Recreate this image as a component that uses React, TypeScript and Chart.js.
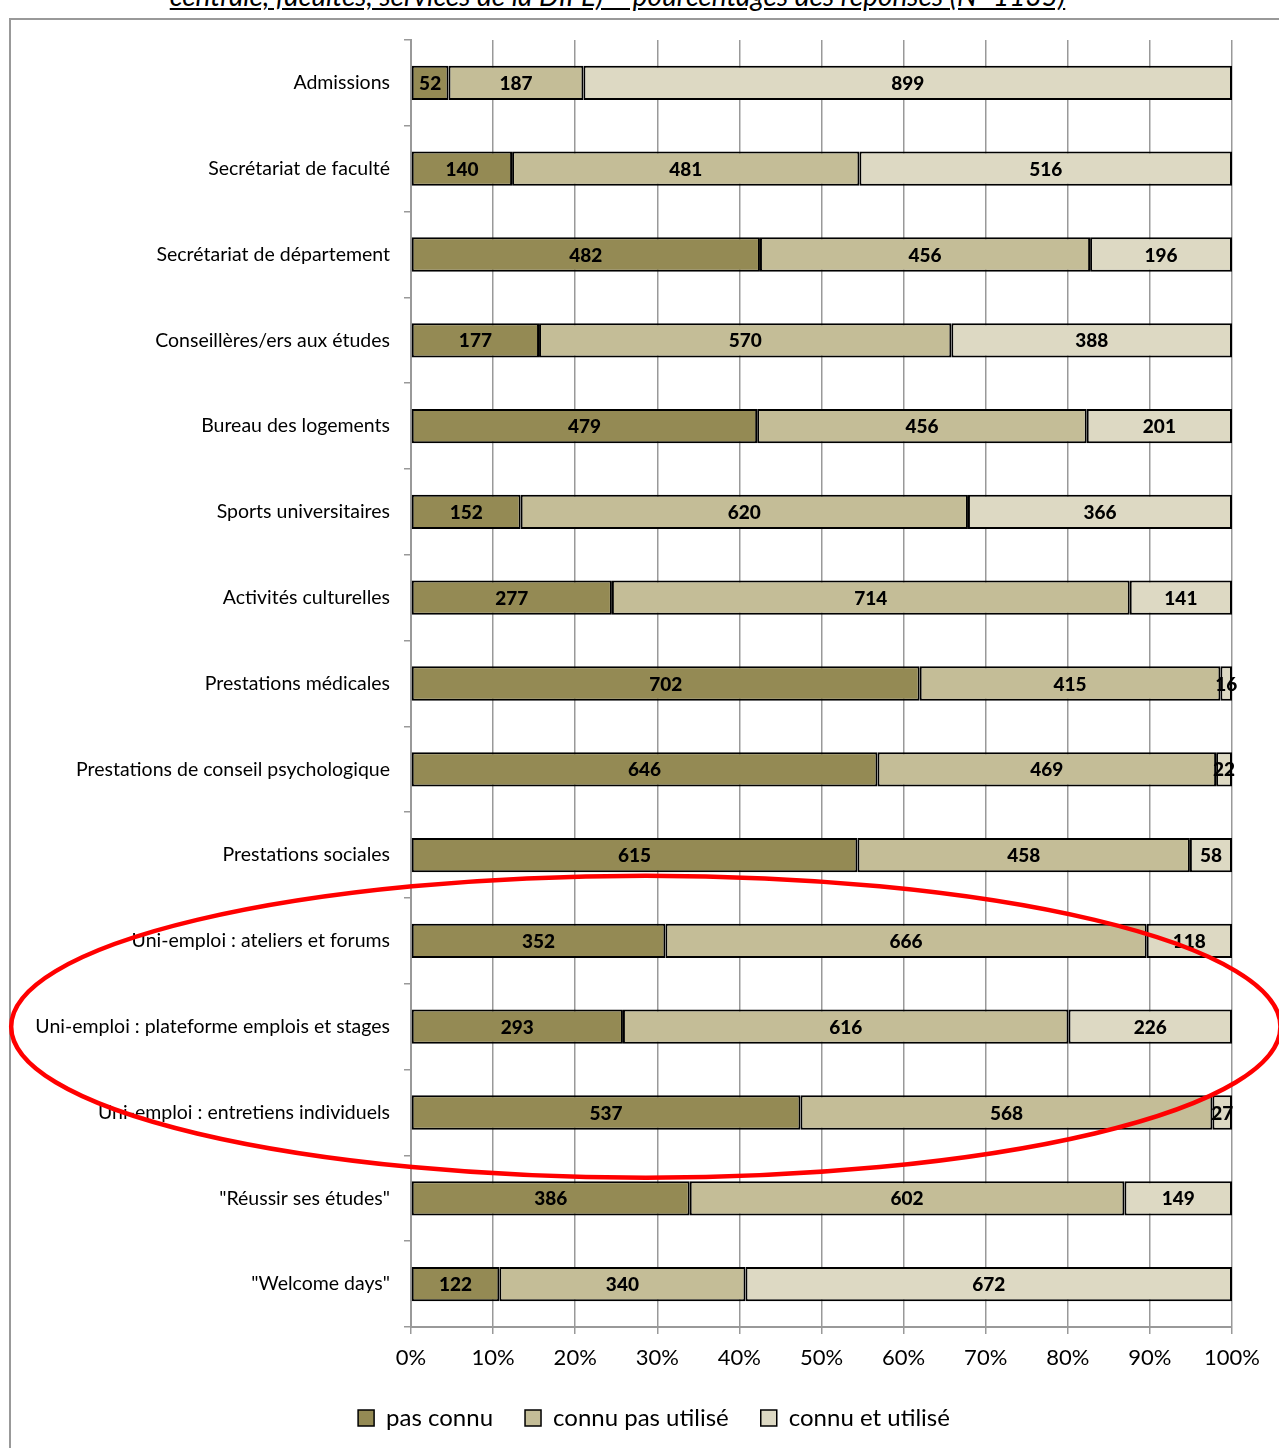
import React, { useEffect, useRef } from "react";
import { Chart, registerables } from "chart.js";

Chart.register(...registerables);

const categories = [
  "Admissions",
  "Secrétariat de faculté",
  "Secrétariat de département",
  "Conseillères/ers aux études",
  "Bureau des logements",
  "Sports universitaires",
  "Activités culturelles",
  "Prestations médicales",
  "Prestations de conseil psychologique",
  "Prestations sociales",
  "Uni-emploi : ateliers et forums",
  "Uni-emploi : plateforme emplois et stages",
  "Uni-emploi : entretiens individuels",
  "\"Réussir ses études\"",
  "\"Welcome days\"",
];

const pasConnu = [52, 140, 482, 177, 479, 152, 277, 702, 646, 615, 352, 293, 537, 386, 122];
const connuPasUtilise = [187, 481, 456, 570, 456, 620, 714, 415, 469, 458, 666, 616, 568, 602, 340];
const connuEtUtilise = [899, 516, 196, 388, 201, 366, 141, 16, 22, 58, 118, 226, 27, 149, 672];

const seriesNames = ["pas connu", "connu pas utilisé", "connu et utilisé"];
const seriesColors = ["#948A54", "#C4BD97", "#DDD9C3"];

const xTicks = [0, 10, 20, 30, 40, 50, 60, 70, 80, 90, 100];

const titleText = "centrale, facultés, services de la DIFE) – pourcentages des réponses (N=1135)";

const FONT = "Lato, 'Open Sans', sans-serif";

export default function App() {
  const ref = useRef<HTMLCanvasElement | null>(null);

  useEffect(() => {
    document.body.style.margin = "0";
    const canvas = ref.current;
    if (!canvas) return;
    const counts = [pasConnu, connuPasUtilise, connuEtUtilise];
    const totals = categories.map((_, i) => pasConnu[i] + connuPasUtilise[i] + connuEtUtilise[i]);
    const pct = counts.map((arr) => arr.map((v, i) => (v / totals[i]) * 100));

    const labelPlugin = {
      id: "segLabels",
      afterDatasetsDraw(chart: any) {
        const ctx = chart.ctx;
        ctx.save();
        ctx.font = `900 19px ${FONT}`;
        ctx.fillStyle = "#000";
        ctx.textAlign = "center";
        ctx.textBaseline = "middle";
        chart.data.datasets.forEach((ds: any, di: number) => {
          const meta = chart.getDatasetMeta(di);
          meta.data.forEach((el: any, i: number) => {
            const cx = (el.x + el.base) / 2;
            ctx.fillText(String(counts[di][i]), cx, el.y + 1);
          });
        });
        ctx.restore();
      },
    };

    const legendShift = {
      id: "legendShift",
      afterLayout(chart: any) {
        if (chart.legend) chart.legend.left = 76;
      },
    };

    const ellipsePlugin = {
      id: "redEllipse",
      afterDraw(chart: any) {
        const xs = chart.scales.x;
        const ys = chart.scales.y;
        const band = ys.getPixelForValue(1) - ys.getPixelForValue(0);
        const cx = xs.getPixelForValue(28.6);
        const rx = (xs.right - xs.left) * 0.773;
        const cy = ys.getPixelForValue(11);
        const ry = band * 1.76;
        const ctx = chart.ctx;
        ctx.save();
        ctx.strokeStyle = "#FF0000";
        ctx.lineWidth = 4.5;
        ctx.beginPath();
        ctx.ellipse(cx, cy, rx, ry, 0, 0, Math.PI * 2);
        ctx.stroke();
        ctx.restore();
      },
    };

    const chart = new Chart(canvas, {
      type: "bar",
      data: {
        labels: categories,
        datasets: pct.map((d, i) => ({
          label: seriesNames[i],
          data: d,
          backgroundColor: seriesColors[i],
          borderColor: "#000",
          borderWidth: 2,
          borderSkipped: false,
          barPercentage: 0.4,
          categoryPercentage: 1,
        })),
      },
      options: {
        indexAxis: "y",
        animation: false,
        responsive: false,
        maintainAspectRatio: false,
        layout: { padding: { top: 40, right: 47, bottom: 8, left: 0 } },
        scales: {
          x: {
            stacked: true,
            min: 0,
            max: 100,
            afterBuildTicks(scale: any) {
              scale.ticks = xTicks.map((v) => ({ value: v }));
            },
            afterFit(scale: any) {
              scale.height = 47;
            },
            ticks: {
              callback: (v: any) => `${v}%`,
              font: { family: FONT, size: 22 },
              color: "#000",
              padding: 11,
              maxRotation: 0,
            },
            grid: { color: "#999", lineWidth: 1.5, tickLength: 7 },
            border: { color: "#999", width: 2 },
          },
          y: {
            stacked: true,
            afterFit(scale: any) {
              scale.width = 411;
            },
            ticks: {
              font: { family: FONT, size: 19.5 },
              color: "#000",
              padding: 14,
            },
            grid: {
              drawOnChartArea: false,
              drawTicks: true,
              tickLength: 7,
              color: "#999",
              lineWidth: 1.5,
              offset: true,
            },
            border: { color: "#999", width: 2 },
          },
        },
        plugins: {
          legend: {
            position: "bottom",
            labels: {
              font: { family: FONT, size: 24 },
              color: "#000",
              boxWidth: 16,
              boxHeight: 16,
              padding: 32,
              generateLabels: (chart: any) =>
                chart.data.datasets.map((ds: any, i: number) => ({
                  text: ds.label,
                  fillStyle: seriesColors[i],
                  strokeStyle: "#000",
                  lineWidth: 1.5,
                  datasetIndex: i,
                  fontColor: "#000",
                })),
            },
          },
          tooltip: { enabled: false },
        },
      },
      plugins: [labelPlugin, legendShift, ellipsePlugin],
    } as any);

    return () => chart.destroy();
  }, []);

  return (
    <div style={{ position: "relative", width: 1279, height: 1448, overflow: "hidden", background: "#fff" }}>
      <div
        style={{
          position: "absolute",
          top: -22,
          left: 0,
          width: 1235,
          textAlign: "center",
          fontFamily: FONT,
          fontStyle: "italic",
          fontSize: 28,
          textDecoration: "underline",
          whiteSpace: "nowrap",
        }}
      >
        {titleText}
      </div>
      <div
        style={{
          position: "absolute",
          left: 9,
          top: 18,
          width: 1400,
          height: 1600,
          border: "2px solid #999",
          boxSizing: "border-box",
        }}
      />
      <canvas ref={ref} width={1279} height={1448} style={{ position: "absolute", left: 0, top: 0 }} />
    </div>
  );
}
